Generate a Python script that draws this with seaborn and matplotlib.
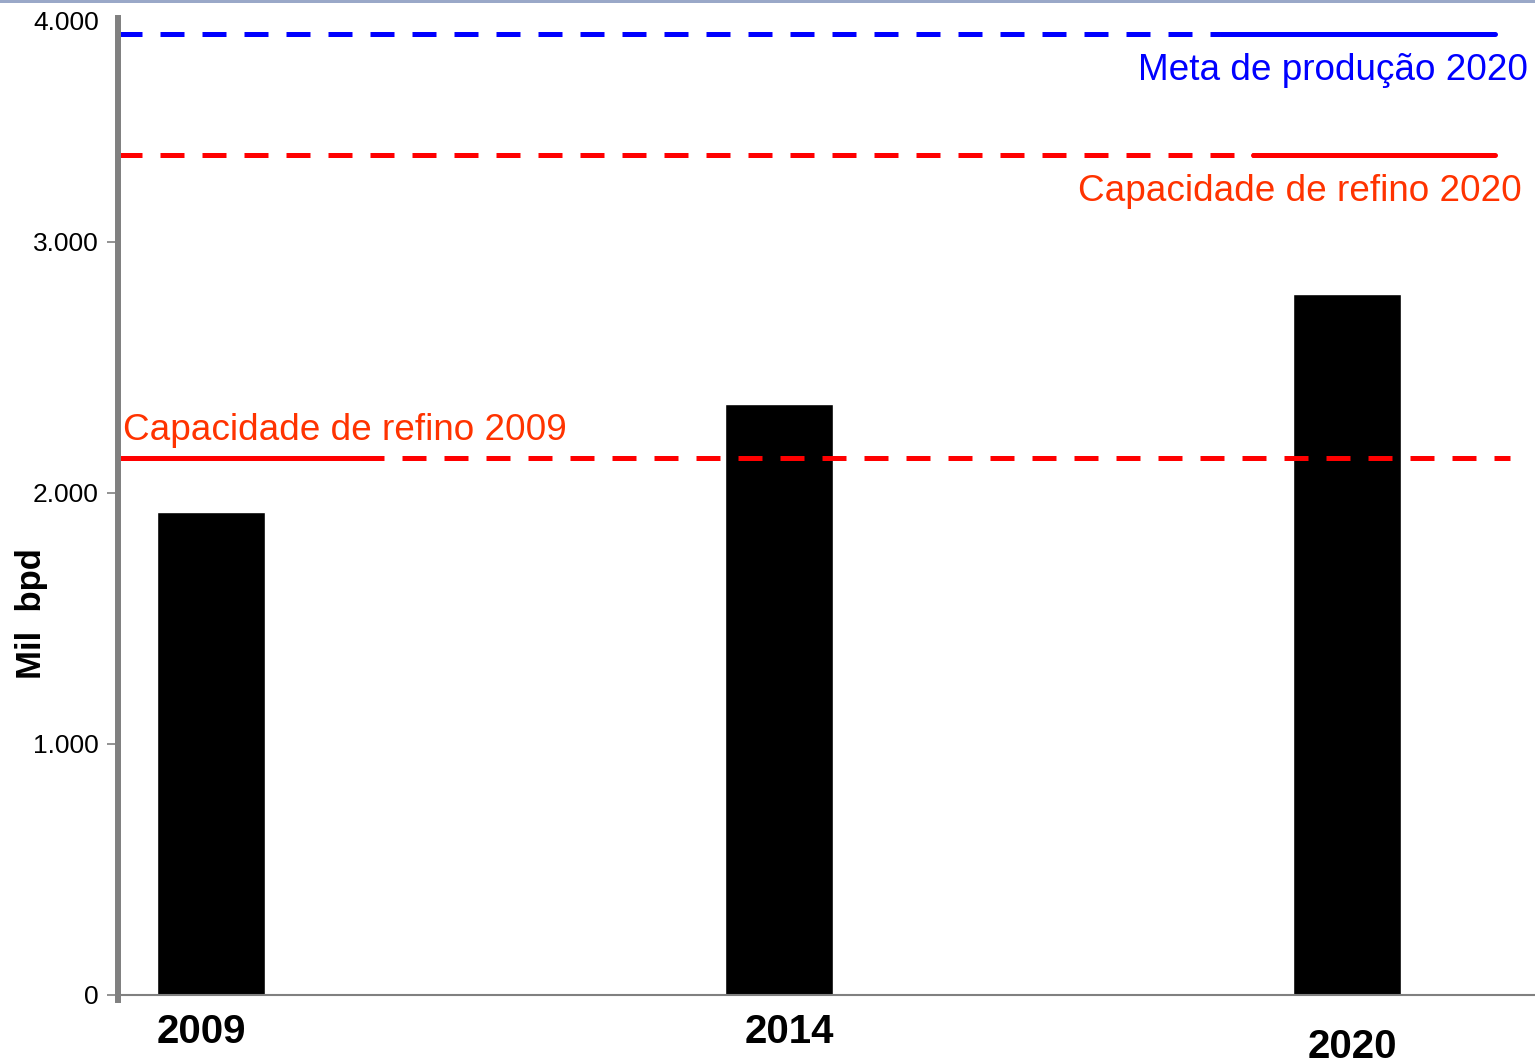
import pandas as pd
import matplotlib
matplotlib.use("Agg")
import matplotlib.pyplot as plt
import matplotlib.transforms as mtransforms
from matplotlib.patches import Rectangle
import seaborn as sns

# data (mil bpd)
years = ["2009", "2014", "2020"]
production = [1924, 2355, 2793]
meta_producao_2020 = 3829
refino_2020 = 3347
refino_2009 = 2139

sns.set_style("white")
plt.rcParams['font.family'] = ['Liberation Sans', 'DejaVu Sans']
plt.rcParams['text.color'] = 'black'
plt.rcParams['xtick.color'] = 'black'
plt.rcParams['ytick.color'] = 'black'

df = pd.DataFrame({"ano": years, "mil_bpd": production})

fig = plt.figure(figsize=(15.35, 10.64), dpi=100)
ax = fig.add_axes([118 / 1535, 69 / 1064, 1 - 118 / 1535, (995 - 18) / 1064])

sns.barplot(data=df, x="ano", y="mil_bpd", color="black", width=0.19,
            saturation=1, ax=ax)

ax.set_xlim(-0.164, 2.331)
ax.set_ylim(0, 3892)

# reference lines: dashed part + solid part
lw = 3.6
dash = (4.8, 3.6)
blue = "#0000ff"
red = "#ff0000"
ax.plot([-0.164, 1.776], [meta_producao_2020] * 2, color=blue, lw=lw, dashes=dash)
ax.plot([1.776, 2.261], [meta_producao_2020] * 2, color=blue, lw=lw)
ax.plot([-0.164, 1.835], [refino_2020] * 2, color=red, lw=lw, dashes=dash)
ax.plot([1.835, 2.261], [refino_2020] * 2, color=red, lw=lw)
ax.plot([-0.164, 0.262], [refino_2009] * 2, color=red, lw=lw)
ax.plot([0.262, 2.287], [refino_2009] * 2, color=red, lw=lw, dashes=dash)

txt_red = "#ff3300"
ax.text(2.318, meta_producao_2020 - 147, "Meta de produção 2020", color=blue,
        fontsize=26.6, ha="right", va="center")
ax.text(2.308, refino_2020 - 147, "Capacidade de refino 2020", color=txt_red,
        fontsize=26.6, ha="right", va="center")
ax.text(-0.155, refino_2009 + 108, "Capacidade de refino 2009", color=txt_red,
        fontsize=26.6, ha="left", va="center")

# axes styling
sns.despine(ax=ax, top=True, right=True)
ax.spines["left"].set_color("#808080")
ax.spines["left"].set_linewidth(4.3)
ax.spines["left"].set_bounds(-20, 3892)
ax.spines["bottom"].set_color("#808080")
ax.spines["bottom"].set_linewidth(1.5)

ax.set_yticks([0, 1000, 2000, 3000])
ax.set_yticklabels(["0", "1.000", "2.000", "3.000"], fontsize=19)
ax.tick_params(axis="y", direction="out", length=8, width=1.2, color="#808080",
               labelcolor="black", left=True, pad=6)
ax.text(-0.013, 0.995, "4.000", transform=ax.transAxes, ha="right", va="center",
        fontsize=19)

ax.set_xticks(range(len(years)))
ax.set_xticklabels(years, fontsize=29, fontweight="bold", color="black")
ax.tick_params(axis="x", length=0, pad=13)
# small per-label nudges (px) as in the original slide
for lbl, (dx, dy) in zip(ax.get_xticklabels(), [(-10, 0), (10, 0), (5, -15)]):
    off = mtransforms.ScaledTranslation(dx / 100, dy / 100, fig.dpi_scale_trans)
    lbl.set_transform(lbl.get_transform() + off)

ax.set_xlabel("")
ax.set_ylabel("Mil  bpd", fontsize=25, fontweight="bold", color="black")
ax.yaxis.set_label_coords(-0.0495, 0.39)

# slide top border
fig.add_artist(Rectangle((0, 1 - 3 / 1064), 1, 3 / 1064, transform=fig.transFigure,
                         color="#9aa8c8", lw=0))

fig.savefig("out.png", dpi=100)
